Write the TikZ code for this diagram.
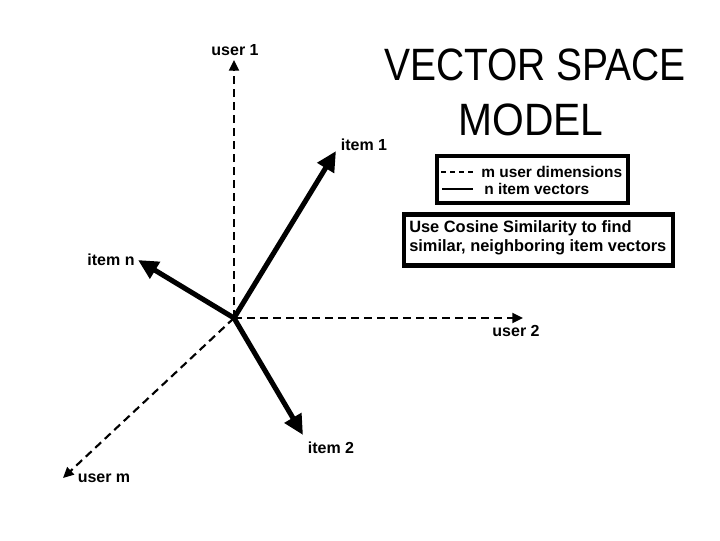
\documentclass[tikz,border=0pt]{standalone}
\usepackage{fontspec}
\setmainfont{Liberation Sans}
\newfontfamily\titlefont{Liberation Sans}
\usetikzlibrary{arrows.meta}
\tikzset{
  vec/.style={line width=3.8pt, -{Triangle[length=15pt,width=14pt]}},
  axis/.style={line width=1.6pt, dash pattern=on 6pt off 3.75pt, -{Triangle[length=8pt,width=7.5pt]}},
  lbl/.style={font=\fontsize{12}{13.5}\selectfont\bfseries, inner sep=0pt},
  leg/.style={font=\fontsize{11.6}{13}\selectfont\bfseries, inner sep=0pt},
  frame/.style={draw, line width=3.5pt, inner sep=0pt},
  ttl/.style={font=\titlefont\fontsize{34}{38}\selectfont, inner sep=0pt}
}
\begin{document}
\begin{tikzpicture}[x=0.75pt,y=-0.75pt]
\useasboundingbox (0,0) rectangle (720,540);
% origin and tips
\coordinate (O) at (234,318);
\coordinate (u1) at (234,60);
\coordinate (u2) at (523,318);
\coordinate (um) at (63,478);
\coordinate (i1) at (336,151);
\coordinate (in) at (138,260);
\coordinate (i2) at (303,435);
% axes
\draw[axis] (O) -- (u1);
\draw[axis] (O) -- (u2);
\draw[axis] (O) -- (um);
% vectors
\draw[vec] (O) -- (i1);
\draw[vec] (O) -- (in);
\draw[vec] (O) -- (i2);
% labels
\node[lbl] (lu1) at (235,50) {user 1};
\node[lbl] (lu2) at (516,331) {user 2};
\node[lbl] (lum) at (104,478) {user m};
\node[lbl] (li1) at (364,145) {item 1};
\node[lbl] (lin) at (111,260) {item n};
\node[lbl] (li2) at (331,448) {item 2};
% title
\node[ttl] (t1) at (535,65) {\scalebox{0.86}[1]{VECTOR SPACE}};
\node[ttl] (t2) at (531,120) {\scalebox{0.9}[1]{MODEL}};
% legend
\node[frame, minimum width=143.25pt, minimum height=35.25pt] (legend) at (532.5,179.5) {};
\coordinate (d1) at (441,172);
\coordinate (d2) at (476,172);
\coordinate (s1) at (442,189);
\coordinate (s2) at (473,189);
\draw[line width=1.6pt, dash pattern=on 3.75pt off 3pt] (d1) -- (d2);
\draw[line width=1.2pt] (s1) -- (s2);
\node[leg, anchor=west] (lg1) at (481,172) {m user dimensions};
\node[leg, anchor=west] (lg2) at (484,189) {n item vectors};
% cosine box
\node[frame, minimum width=201.75pt, minimum height=38.25pt] (cosbox) at (538.5,240) {};
\node[font=\fontsize{12.3}{14}\selectfont\bfseries, inner sep=0pt, anchor=west, align=left] (cos) at (409,238) {Use Cosine Similarity to find\\similar, neighboring item vectors};
\end{tikzpicture}
\end{document}
